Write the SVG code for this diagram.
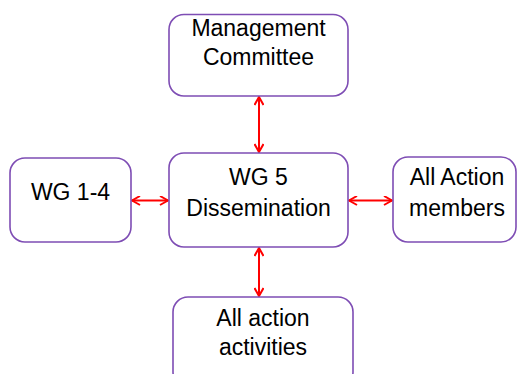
<svg xmlns="http://www.w3.org/2000/svg" width="517" height="374" viewBox="0 0 517 374">
<defs>
<marker id="ah" viewBox="0 0 10 10" refX="9" refY="5" markerWidth="10" markerHeight="10" markerUnits="userSpaceOnUse" orient="auto-start-reverse">
<path d="M1,0.5 L9,5 L1,9.5" fill="none" stroke="#FF0000" stroke-width="2"/>
</marker>
<style>
.box{fill:#FFFFFF;stroke:#7E4DB4;stroke-width:1.6}
.t{font-family:"Liberation Sans",Arial,sans-serif;font-size:23px;fill:#000000;text-anchor:middle}
.c{stroke:#FF0000;stroke-width:2;fill:none;marker-start:url(#ah);marker-end:url(#ah)}
</style>
</defs>
<rect width="517" height="374" fill="#FFFFFF"/>
<g id="connectors">
<line class="c" x1="259" y1="97" x2="259" y2="152"/>
<line class="c" x1="259" y1="248" x2="259" y2="296"/>
<line class="c" x1="132" y1="200.5" x2="168" y2="200.5"/>
<line class="c" x1="349" y1="200.5" x2="392" y2="200.5"/>
</g>
<g id="management">
<rect class="box" x="169" y="14.5" width="179" height="81.5" rx="15"/>
<text class="t" x="258.5" y="36">Management</text>
<text class="t" x="258.5" y="65">Committee</text>
</g>
<g id="wg14">
<rect class="box" x="10" y="158" width="121" height="84" rx="15"/>
<text class="t" x="70.5" y="200">WG 1-4</text>
</g>
<g id="wg5">
<rect class="box" x="169" y="153" width="179" height="94" rx="15"/>
<text class="t" x="258.5" y="185">WG 5</text>
<text class="t" x="258.5" y="216">Dissemination</text>
</g>
<g id="members">
<rect class="box" x="393" y="157" width="123" height="85" rx="15"/>
<text class="t" x="457" y="185">All Action</text>
<text class="t" x="457" y="216">members</text>
</g>
<g id="activities">
<rect class="box" x="173" y="297" width="180" height="90" rx="15"/>
<text class="t" x="263" y="326">All action</text>
<text class="t" x="263" y="355">activities</text>
</g>
</svg>
